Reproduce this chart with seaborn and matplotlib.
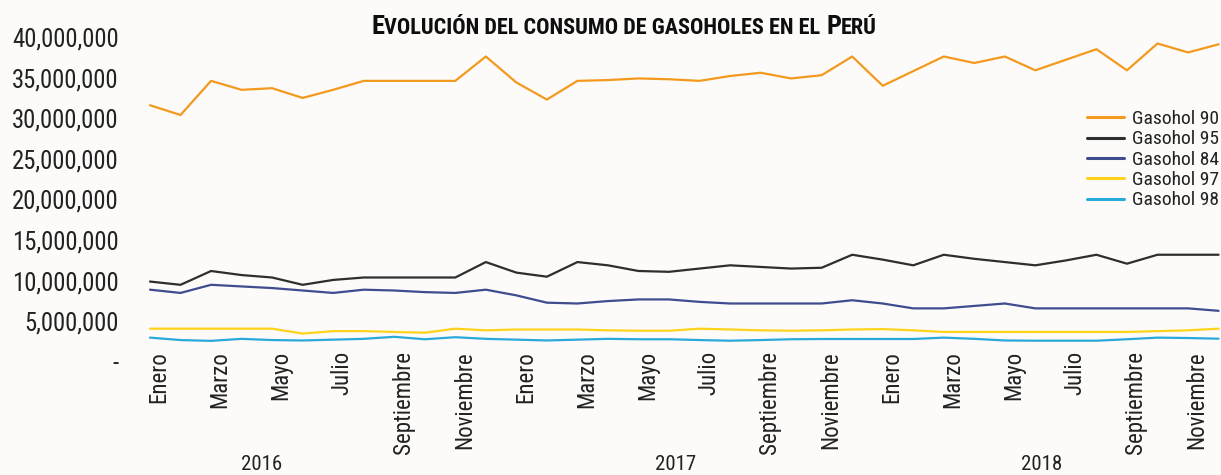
import matplotlib
matplotlib.use("Agg")
import matplotlib.pyplot as plt
import matplotlib.transforms as mtransforms
from matplotlib import font_manager
import numpy as np
import pandas as pd
import seaborn as sns

# ---- data (monthly consumption, millions) ----
years = ["2016", "2017", "2018"]
month_names = ["Enero", "Febrero", "Marzo", "Abril", "Mayo", "Junio", "Julio",
               "Agosto", "Septiembre", "Octubre", "Noviembre", "Diciembre"]
series_names = ["Gasohol 90", "Gasohol 95", "Gasohol 84", "Gasohol 97", "Gasohol 98"]

gasohol_90 = [31.6, 30.4, 34.6, 33.5, 33.7, 32.5, 33.5, 34.6, 34.6, 34.6, 34.6, 37.6,
              34.4, 32.3, 34.6, 34.7, 34.9, 34.8, 34.6, 35.2, 35.6, 34.9, 35.3, 37.6,
              34.0, 35.8, 37.6, 36.8, 37.6, 35.9, 37.2, 38.5, 35.9, 39.2, 38.1, 39.1]
gasohol_95 = [9.9, 9.5, 11.2, 10.7, 10.4, 9.5, 10.1, 10.4, 10.4, 10.4, 10.4, 12.3,
              11.0, 10.5, 12.3, 11.9, 11.2, 11.1, 11.5, 11.9, 11.7, 11.5, 11.6, 13.2,
              12.6, 11.9, 13.2, 12.7, 12.3, 11.9, 12.5, 13.2, 12.1, 13.2, 13.2, 13.2]
gasohol_84 = [8.9, 8.5, 9.5, 9.3, 9.1, 8.8, 8.5, 8.9, 8.8, 8.6, 8.5, 8.9,
              8.2, 7.3, 7.2, 7.5, 7.7, 7.7, 7.4, 7.2, 7.2, 7.2, 7.2, 7.6,
              7.2, 6.6, 6.6, 6.9, 7.2, 6.6, 6.6, 6.6, 6.6, 6.6, 6.6, 6.3]
gasohol_97 = [4.1, 4.1, 4.1, 4.1, 4.1, 3.5, 3.8, 3.8, 3.7, 3.6, 4.1, 3.9,
              4.0, 4.0, 4.0, 3.9, 3.85, 3.85, 4.1, 4.0, 3.9, 3.85, 3.9, 4.0,
              4.05, 3.9, 3.7, 3.7, 3.7, 3.7, 3.7, 3.7, 3.7, 3.8, 3.9, 4.1]
gasohol_98 = [3.0, 2.7, 2.6, 2.85, 2.7, 2.65, 2.75, 2.85, 3.1, 2.8, 3.05, 2.85,
              2.75, 2.65, 2.75, 2.85, 2.8, 2.8, 2.7, 2.62, 2.7, 2.8, 2.83, 2.83,
              2.83, 2.83, 3.0, 2.85, 2.65, 2.62, 2.62, 2.62, 2.8, 3.0, 2.95, 2.87]

palette = {
    "Gasohol 90": "#F39A1E",
    "Gasohol 95": "#2E2E2E",
    "Gasohol 84": "#3F4C8E",
    "Gasohol 97": "#FFD21C",
    "Gasohol 98": "#2AAAD8",
}

# ---- long-form table ----
n = len(gasohol_90)
month_idx = np.arange(n)
values = [gasohol_90, gasohol_95, gasohol_84, gasohol_97, gasohol_98]
df = pd.concat(
    [pd.DataFrame({"mes": month_idx, "consumo": np.array(v) * 1e6, "tipo": name})
     for name, v in zip(series_names, values)],
    ignore_index=True,
)

# ---- fonts ----
available = {f.name for f in font_manager.fontManager.ttflist}
def pick(*names):
    for nm in names:
        if nm in available:
            return nm
    return "DejaVu Sans"
body_font = pick("Liberation Sans Narrow", "Roboto Condensed", "Liberation Sans", "Roboto")

sns.set_theme(style="white")
bg = "#FCFBF9"
ink = "#222222"
plt.rcParams["font.family"] = [body_font, "DejaVu Sans"]
plt.rcParams["axes.facecolor"] = bg
plt.rcParams["figure.facecolor"] = bg

W, H = 1221, 475
fig = plt.figure(figsize=(W / 100, H / 100), dpi=100)
ax = fig.add_axes([145 / W, 113 / H, 1076 / W, 325 / H])

sns.lineplot(data=df, x="mes", y="consumo", hue="tipo", hue_order=series_names,
             palette=palette, linewidth=1.6, ax=ax, legend=True)

ax.set_xlim(-5 / 30.53, 35.08)
ax.set_ylim(0, 40e6)
for s in ax.spines.values():
    s.set_visible(False)
ax.set_xlabel("")
ax.set_ylabel("")

# y axis: accounting-style labels
yticks = np.arange(0, 40e6 + 1, 5e6)
ax.set_yticks(yticks)
ax.set_yticklabels(["-" if v == 0 else f"{v:,.0f}" for v in yticks])
ax.tick_params(axis="y", length=0, pad=19, labelsize=17.8, labelcolor=ink)

# x axis: every other month, rotated
xticks = month_idx[::2]
ax.set_xticks(xticks)
ax.set_xticklabels([month_names[i % 12] for i in xticks], rotation=90, va="top", ha="center")
ax.tick_params(axis="x", length=0, pad=-8, labelsize=16.5, labelcolor=ink)
shift = mtransforms.ScaledTranslation(9 / 100, 0, fig.dpi_scale_trans)
for lbl in ax.get_xticklabels():
    lbl.set_transform(lbl.get_transform() + shift)

# year labels under the months
year_tr = mtransforms.blended_transform_factory(ax.transData, fig.transFigure)
for yr, xpos in zip(years, [3.64, 17.2, 29.2]):
    ax.text(xpos, 11 / H, yr, transform=year_tr, ha="center", va="center",
            fontsize=15, color=ink)

# legend
leg = ax.legend(title=None, loc="upper right", bbox_to_anchor=(1219 / W, (H - 110) / H),
                bbox_transform=fig.transFigure, frameon=False, fontsize=14,
                handlelength=1.9, handletextpad=0.4, labelspacing=0.12,
                borderpad=0, borderaxespad=0)
for line in leg.get_lines():
    line.set_linewidth(2.2)
for t in leg.get_texts():
    t.set_color(ink)

# title in small caps built from pieces
title_font = pick("Liberation Sans Narrow", "Roboto Condensed", "Liberation Sans")
pieces = [("E", 1.0), ("VOLUCIÓN DEL CONSUMO DE GASOHOLES EN EL", 0.84),
          (" ", 0.84), ("P", 1.0), ("ERÚ", 0.84)]
renderer = fig.canvas.get_renderer()
base_y = (H - 34) / H


def layout_title(big):
    arts = []
    for s, rel in pieces:
        t = fig.text(0, base_y, s if s.strip() else "", fontsize=big * rel,
                     fontweight="bold", family=[title_font, "DejaVu Sans"],
                     color="#0E0E0E", va="baseline", ha="left")
        arts.append((t, s, big * rel))
    ws = []
    for t, s, size in arts:
        ws.append(t.get_window_extent(renderer).width if s.strip() else size * 100 / 72 * 0.26)
    return arts, ws


arts, ws = layout_title(21)
scale = 505 / sum(ws)
for t, _, _ in arts:
    t.remove()
arts, ws = layout_title(21 * scale)
x0 = 624 - sum(ws) / 2
for (t, s, size), w in zip(arts, ws):
    t.set_x(x0 / W)
    x0 += w

fig.savefig("out.png", dpi=100, facecolor=bg)
